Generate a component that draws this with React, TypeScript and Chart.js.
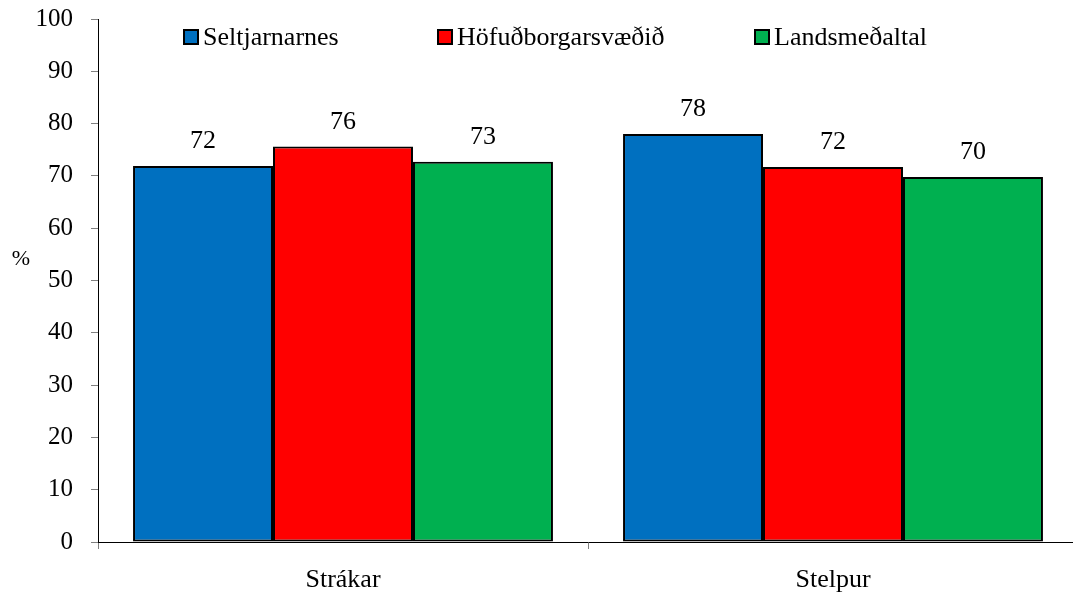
import React, { useEffect, useRef } from "react";
import { Chart, registerables } from "chart.js";

Chart.register(...registerables);

const categories = ["Strákar", "Stelpur"];
const seriesNames = ["Seltjarnarnes", "Höfuðborgarsvæðið", "Landsmeðaltal"];
const seltjarnarnes = [71.9, 78.0];
const hofudborgarsvaedid = [75.6, 71.7];
const landsmedaltal = [72.7, 69.8];
const colors = ["#0070C0", "#FF0000", "#00B050"];
const yTicks = [0, 10, 20, 30, 40, 50, 60, 70, 80, 90, 100];

const FONT = "'Liberation Serif', 'Times New Roman', serif";

const overlayPlugin = {
  id: "overlay",
  afterDatasetsDraw(chart: any) {
    const ctx = chart.ctx;
    ctx.save();
    // data labels
    ctx.font = `26px ${FONT}`;
    ctx.fillStyle = "#000";
    ctx.textAlign = "center";
    ctx.textBaseline = "alphabetic";
    chart.data.datasets.forEach((ds: any, di: number) => {
      const meta = chart.getDatasetMeta(di);
      meta.data.forEach((bar: any, i: number) => {
        const v = ds.data[i];
        ctx.fillText(String(Math.round(v)), bar.x, bar.y - 18);
      });
    });
    // legend
    const legendX = [184, 438, 755];
    const legendY = 37;
    ctx.font = `26px ${FONT}`;
    ctx.textAlign = "left";
    ctx.textBaseline = "middle";
    chart.data.datasets.forEach((ds: any, di: number) => {
      const x = legendX[di];
      ctx.fillStyle = ds.backgroundColor;
      ctx.fillRect(x, legendY - 7, 14, 14);
      ctx.lineWidth = 2;
      ctx.strokeStyle = "#000";
      ctx.strokeRect(x, legendY - 7, 14, 14);
      ctx.fillStyle = "#000";
      ctx.fillText(ds.label, x + 19, legendY + 1);
    });
    // y-axis title
    ctx.font = `22px ${FONT}`;
    ctx.textAlign = "center";
    ctx.fillText("%", 21, 259);
    ctx.restore();
  },
};

export default function App() {
  const canvasRef = useRef<HTMLCanvasElement | null>(null);

  useEffect(() => {
    if (!canvasRef.current) return;
    const seriesValues = [seltjarnarnes, hofudborgarsvaedid, landsmedaltal];
    const chart = new Chart(canvasRef.current, {
      type: "bar",
      data: {
        labels: categories,
        datasets: seriesNames.map((name, i) => ({
          label: name,
          data: seriesValues[i],
          backgroundColor: colors[i],
          borderColor: "#000",
          borderWidth: 2,
          borderSkipped: false,
          categoryPercentage: 0.857,
          barPercentage: 1,
        })),
      },
      options: {
        responsive: false,
        animation: false,
        events: [],
        layout: { padding: { top: 19, right: 4, left: 0, bottom: 0 } },
        plugins: {
          legend: { display: false },
          tooltip: { enabled: false },
        },
        scales: {
          x: {
            afterFit: (scale: any) => {
              scale.height = 57;
              scale.paddingLeft = 0;
              scale.paddingRight = 0;
            },
            grid: {
              offset: true,
              drawOnChartArea: false,
              drawTicks: true,
              tickLength: 7,
              color: "#808080",
            },
            border: { display: true, color: "#000", width: 1 },
            ticks: {
              color: "#000",
              font: { family: FONT, size: 26 },
              padding: 16,
            },
          },
          y: {
            min: 0,
            max: 100,
            afterFit: (scale: any) => {
              scale.width = 98;
              scale.paddingTop = 0;
              scale.paddingBottom = 0;
            },
            afterBuildTicks: (scale: any) => {
              scale.ticks = yTicks.map((v) => ({ value: v }));
            },
            grid: {
              drawOnChartArea: false,
              drawTicks: true,
              tickLength: 7,
              color: "#808080",
            },
            border: { display: true, color: "#000", width: 1 },
            ticks: {
              color: "#000",
              font: { family: FONT, size: 25 },
              padding: 18,
            },
          },
        },
      },
      plugins: [overlayPlugin],
    });
    return () => chart.destroy();
  }, []);

  return (
    <div
      style={{
        position: "fixed",
        left: 0,
        top: 0,
        width: 1073,
        height: 599,
        overflow: "hidden",
        background: "#fff",
      }}
    >
      <canvas
        ref={canvasRef}
        width={1082}
        height={599}
        style={{ display: "block", width: 1082, height: 599 }}
      />
    </div>
  );
}
